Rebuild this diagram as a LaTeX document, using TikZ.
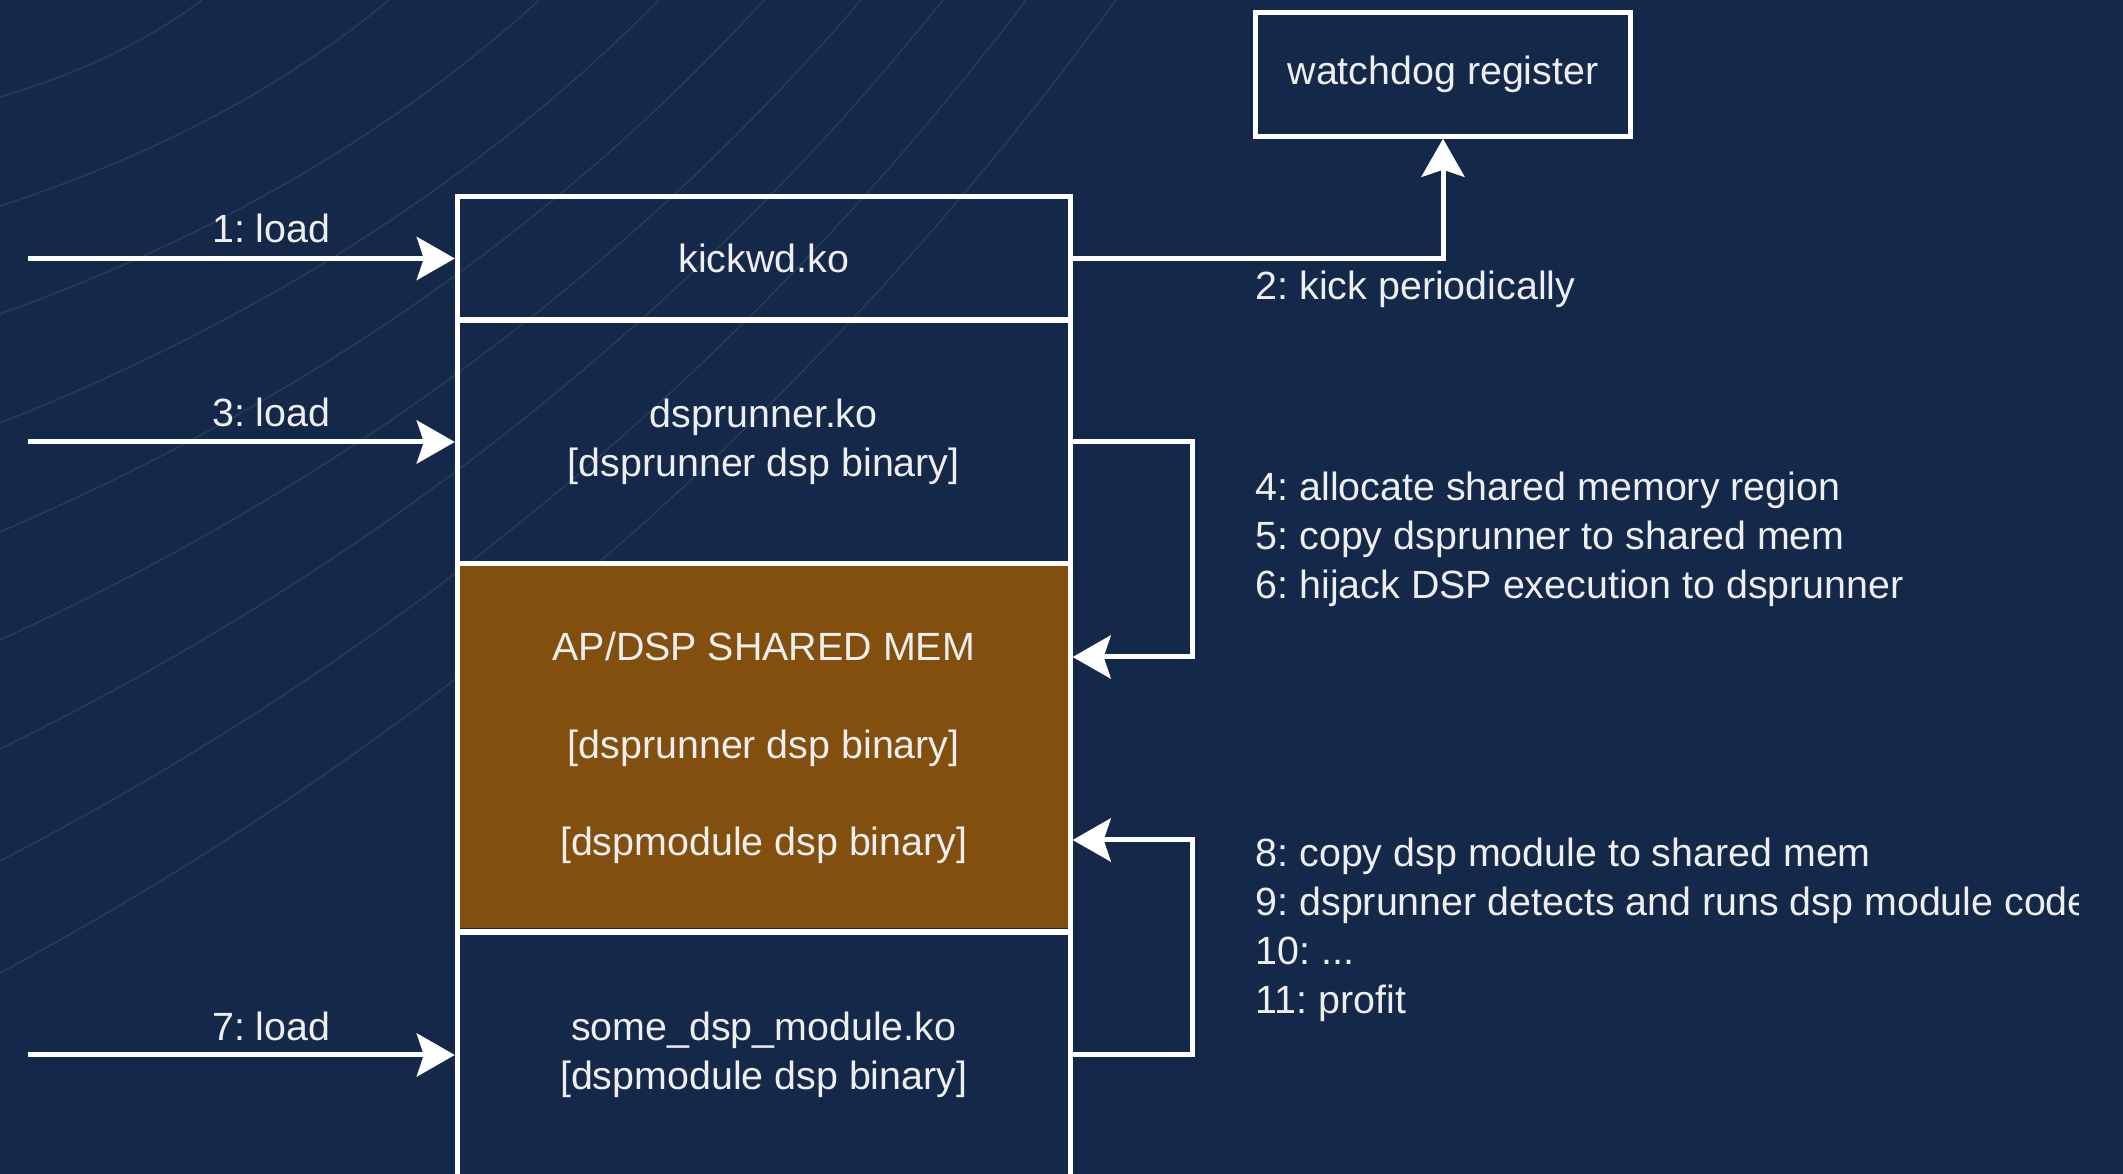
\documentclass[tikz,border=0pt]{standalone}
\usepackage{fontspec}
\setmainfont{Liberation Sans}
\usetikzlibrary{arrows.meta}
\definecolor{navy}{RGB}{20,40,74}
\definecolor{sheen}{RGB}{38,58,90}
\definecolor{shmbrown}{RGB}{130,79,14}
\definecolor{ink}{RGB}{238,238,238}

\begin{document}
\frenchspacing
\begin{tikzpicture}[x=0.01cm, y=-0.01cm,
  every node/.style={font=\fontsize{11.2pt}{13.9pt}\selectfont, text=ink},
  membox/.style={draw=white, line width=0.05cm, minimum width=6.125cm, inner sep=0pt, align=center},
  flow/.style={draw=white, line width=0.05cm, -{Stealth[length=0.38cm, width=0.43cm, inset=0.07cm]}},
  sheenline/.style={draw=sheen, line width=0.015cm},
  note/.style={anchor=west, align=left, inner sep=0pt}]

% backdrop
\fill[navy] (0,0) rectangle (2123,1174);
\useasboundingbox (0,0) rectangle (2123,1174);

% faint decorative arcs in the upper left
\foreach \a/\b in {97/202, 206/389, 314/539, 423/659, 532/764, 640/861, 749/943, 861/1026, 973/1116}
  \draw[sheenline] (0,\a) .. controls ({0.4*\b},{0.753*\a}) and ({0.733*\b},{0.42*\a}) .. (\b,0);

% memory column
\node[membox, minimum height=1.23cm] (kick) at (763.75,258.5) {kickwd.ko};
\node[membox, minimum height=2.44cm] (runner) at (763.75,442) {dsprunner.ko\\{[dsprunner dsp binary]}};
\node[membox, minimum height=3.68cm, fill=shmbrown] (shm) at (763.75,748)
  {AP/DSP SHARED MEM\\[13.9pt]{[dsprunner dsp binary]}\\[13.9pt]{[dspmodule dsp binary]}};
\draw[navy, line width=0.02cm]
  ([xshift=0.05cm, yshift=0.06cm]shm.south west) -- ([xshift=-0.05cm, yshift=0.06cm]shm.south east);
\node[membox, minimum height=2.46cm] (mod) at (763.75,1055) {some\_dsp\_module.ko\\{[dspmodule dsp binary]}};

% watchdog
\node[membox, minimum width=3.74cm, minimum height=1.235cm] (wdog) at (1443,74.5) {watchdog register};

% load arrows
\coordinate (in1) at (28,258.5);
\coordinate (in3) at (28,442);
\coordinate (in7) at (28,1055);
\draw[flow] (in1) -- node[pos=0.57, yshift=0.3cm] (l1) {1: load} (kick.west);
\draw[flow] (in3) -- node[pos=0.57, yshift=0.295cm] (l3) {3: load} (runner.west);
\draw[flow] (in7) -- node[pos=0.57, yshift=0.285cm] (l7) {7: load} (mod.west);

% kick the watchdog
\draw[flow] (kick.east) -| (wdog.south);
\node[note] (l2) at (1255,289) {2: kick periodically};

% copy loops into shared memory
\coordinate (c1) at (1192,657);
\coordinate (c2) at (1192,840);
\draw[flow] (runner.east) -| (c1) -- (c1 -| shm.east);
\draw[flow] (mod.east) -| (c2) -- (c2 -| shm.east);

% step notes
\node[note] (steps1) at (1255,539)
  {4: allocate shared memory region\\5: copy dsprunner to shared mem\\6: hijack DSP execution to dsprunner};
\begin{scope}
  \clip (0,0) rectangle (2078,1174);
  \node[note] (steps2) at (1255,930)
    {8: copy dsp module to shared mem\\9: dsprunner detects and runs dsp module code\\10: ...\\11: profit};
\end{scope}
\end{tikzpicture}
\end{document}
